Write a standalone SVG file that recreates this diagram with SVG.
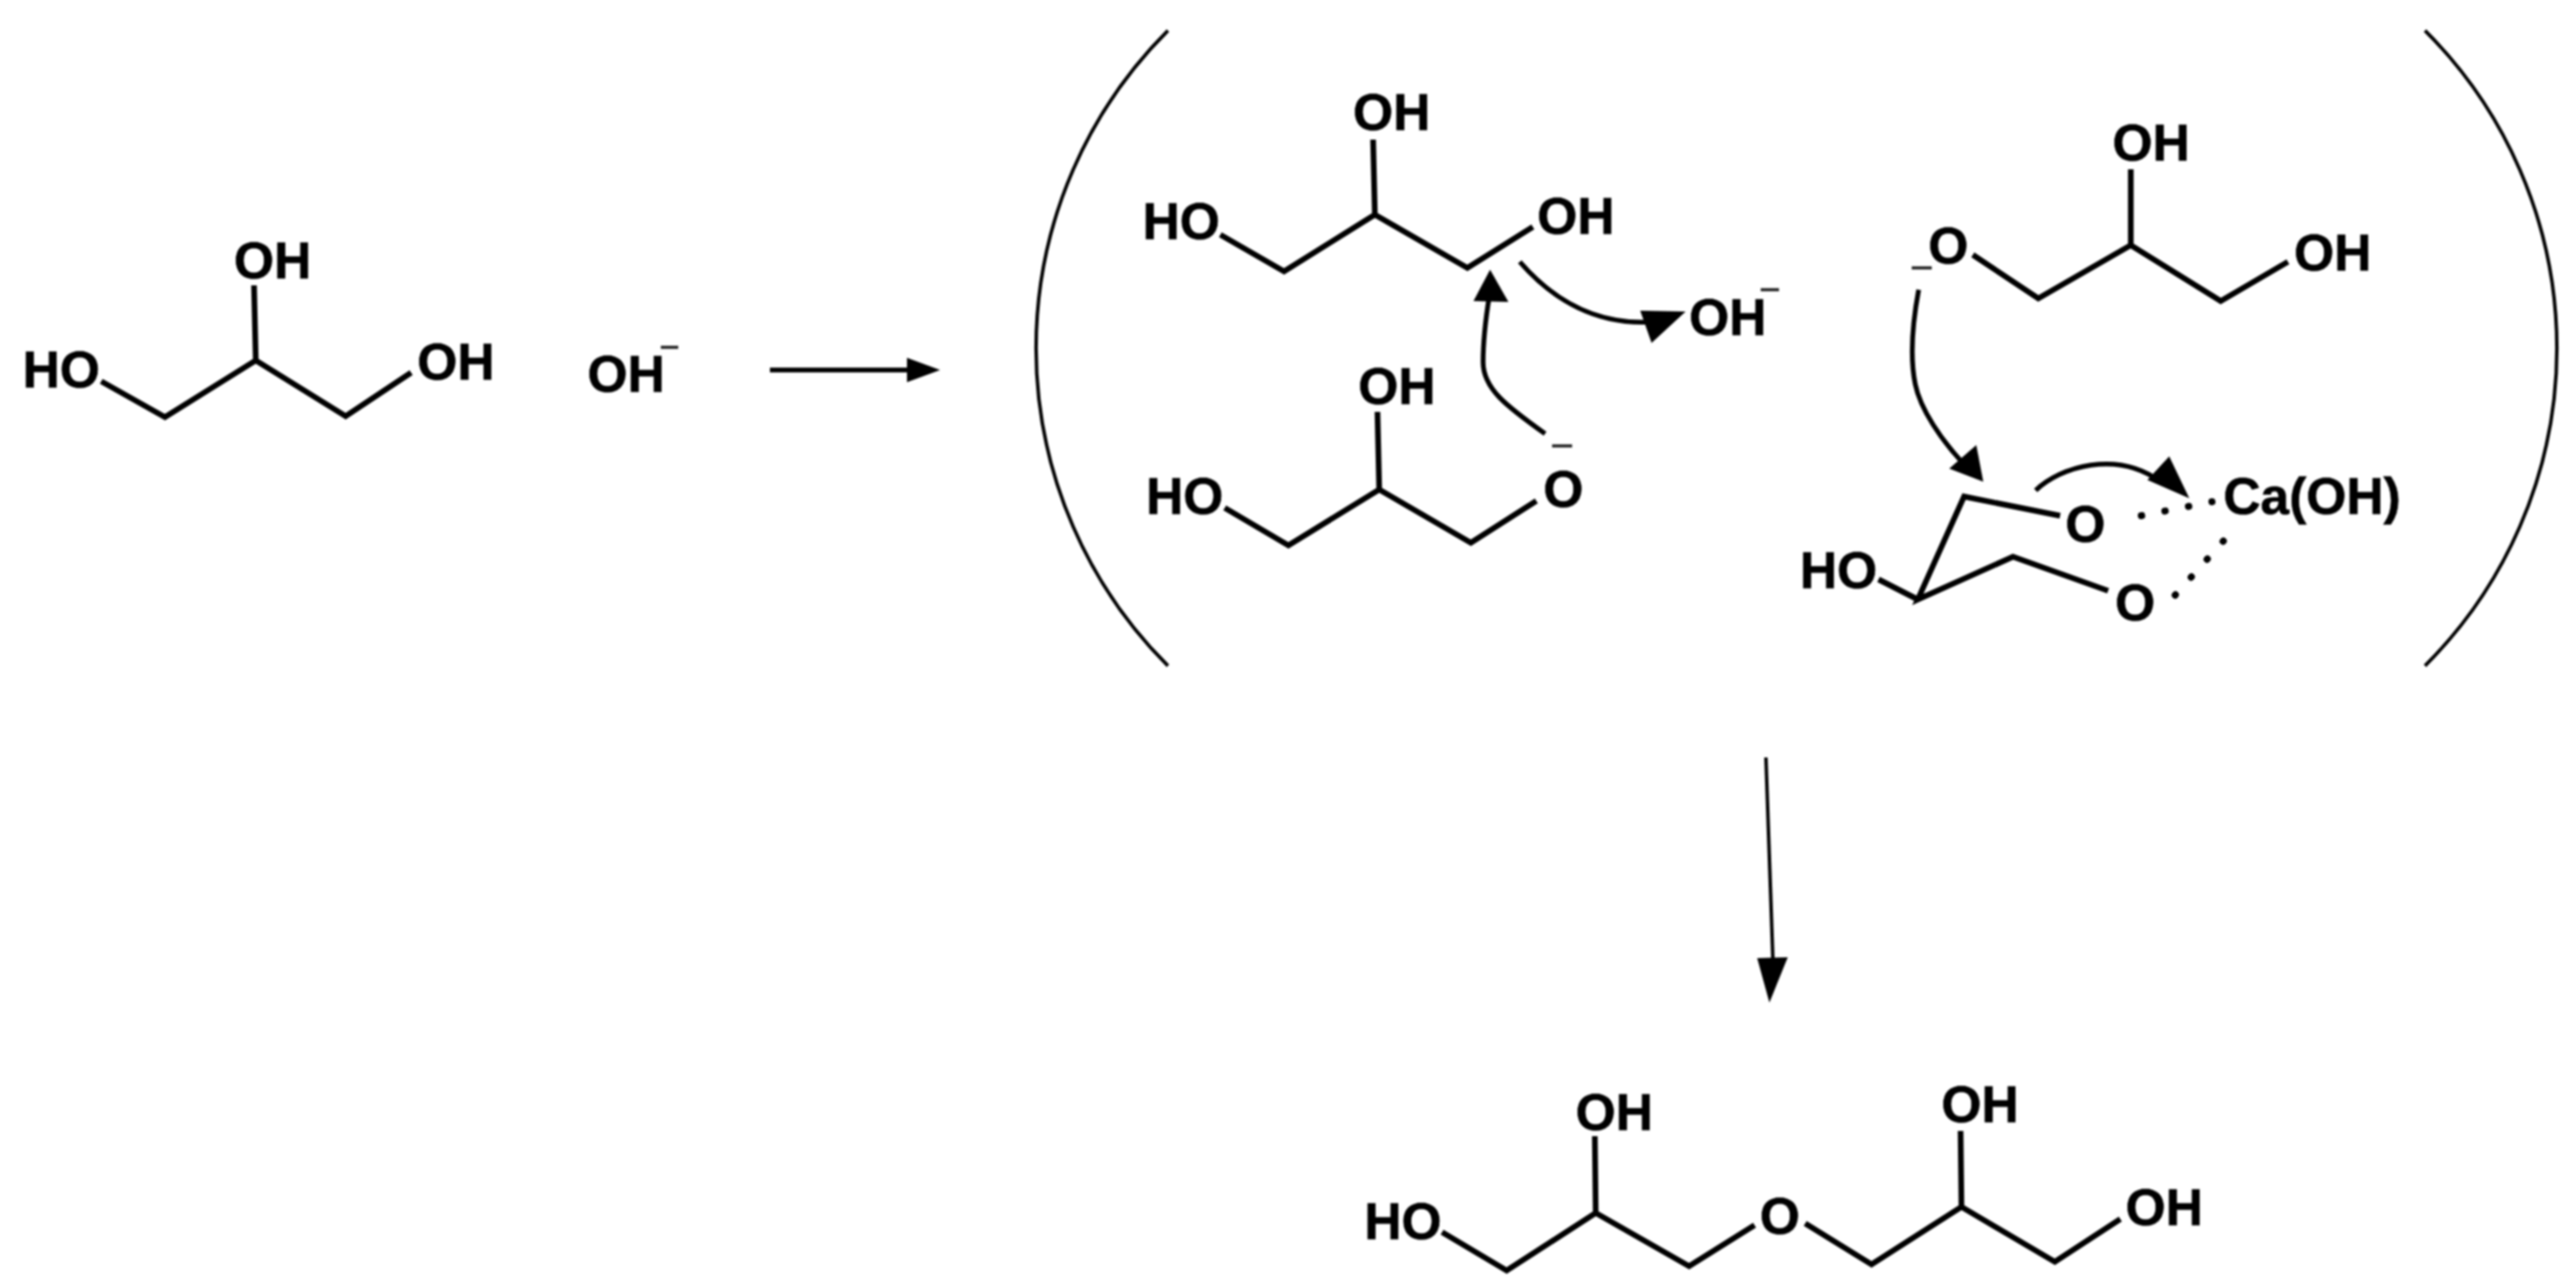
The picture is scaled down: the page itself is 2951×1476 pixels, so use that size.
<svg xmlns="http://www.w3.org/2000/svg" width="2951" height="1476" viewBox="0 0 2951 1476">
<style>
text{font-family:"Liberation Sans",Arial,sans-serif;font-weight:700;font-size:59px;fill:#000;stroke:#000;stroke-width:0.7}
.b{fill:none;stroke:#000;stroke-width:6.5;stroke-linejoin:miter;stroke-linecap:butt}
.t{fill:none;stroke:#000;stroke-width:4}
.c{fill:none;stroke:#000;stroke-width:5.5}
.m{stroke:#222;stroke-width:3.5}
.h{fill:#000}
.d{fill:none;stroke:#000;stroke-width:8;stroke-linecap:round;stroke-dasharray:0.5 27}
</style>
<defs><filter id="soft" x="-2%" y="-2%" width="104%" height="104%"><feGaussianBlur stdDeviation="0.9"/></filter></defs>
<rect width="2951" height="1476" fill="#fff"/>
<g filter="url(#soft)">
<g id="glycerol">
<path class="b" d="M116,437L189,478L293,413L396,477L471,427M291,327L293,413"/>
<text x="26" y="444">HO</text><text x="268" y="319">OH</text><text x="478" y="435">OH</text>
</g>
<g id="hydroxide">
<text x="673" y="449">OH</text><line class="m" x1="757" y1="398" x2="777" y2="398"/>
</g>
<g id="bracket-left"><path class="t" d="M1338,35A514,514 0 0 0 1338,763"/></g>
<g id="bracket-right"><path class="t" d="M2778,35A514,514 0 0 1 2778,763"/></g>
<g id="mol-top-left">
<path class="b" d="M1398,269L1471,311L1575,246L1681,307L1756,260M1573,160L1575,246"/>
<text x="1550" y="149">OH</text><text x="1309" y="274">HO</text><text x="1761" y="268">OH</text>
</g>
<g id="hydroxide-leaving">
<text x="1935" y="384">OH</text><line class="m" x1="2017" y1="332" x2="2038" y2="332"/>
</g>
<g id="mol-bottom-left">
<path class="b" d="M1403,582L1476,625L1580,561L1685,622L1760,574M1578,472L1580,561"/>
<text x="1556" y="463">OH</text><text x="1313" y="589">HO</text><text x="1768" y="581">O</text>
<line class="m" x1="1778" y1="511" x2="1801" y2="511"/>
</g>
<g id="mol-top-right">
<path class="b" d="M2260,292L2335,342L2441,281L2544,345L2621,300M2441,194L2441,281"/>
<text x="2420" y="184">OH</text><text x="2209" y="302">O</text><text x="2628" y="310">OH</text>
<line class="m" x1="2190" y1="307" x2="2213" y2="307"/>
</g>
<g id="mol-ring">
<path class="b" d="M2360,591L2250,569L2197,687L2306,638L2415,677M2152,664L2197,687"/>
<text x="2062" y="674">HO</text><text x="2366" y="621">O</text><text x="2423" y="711">O</text><text x="2547" y="589">Ca(OH)</text>
<path class="d" d="M2453,591L2534,575"/>
<path class="d" d="M2547,620L2490,684"/>
</g>
<g id="product">
<path class="b" d="M1652,1412L1726,1456L1828,1390L1935,1451L2010,1404M1827,1302L1828,1390M2068,1402L2144,1449L2247,1383L2354,1446L2429,1397M2246,1296L2247,1383"/>
<text x="1805" y="1295">OH</text><text x="1563" y="1420">HO</text><text x="2016" y="1414">O</text><text x="2224" y="1286">OH</text><text x="2435" y="1404">OH</text>
</g>
<g id="connectors">
<line class="c" x1="882" y1="424" x2="1045" y2="424"/><polygon class="h" points="1039,410 1077,424 1039,438"/>
<line class="t" x1="2023" y1="868" x2="2031" y2="1100"/><polygon class="h" points="2013,1098 2048,1097 2027,1149"/>
<path class="c" d="M1770,497C1725,465 1699,445 1699,415C1699,390 1702,365 1706,340"/><polygon class="h" points="1707,309 1728,346 1688,345"/>
<path class="c" d="M1741,300C1780,345 1830,372 1890,369"/><polygon class="h" points="1931,357 1892,393 1879,356"/>
<path class="c" d="M2198,332C2190,375 2188,410 2194,440C2200,470 2225,505 2248,530"/><polygon class="h" points="2272,552 2233,537 2264,510"/>
<path class="c" d="M2332,562C2360,535 2425,515 2475,552"/><polygon class="h" points="2508,571 2460,550 2485,523"/>
</g>
</g>
</svg>
